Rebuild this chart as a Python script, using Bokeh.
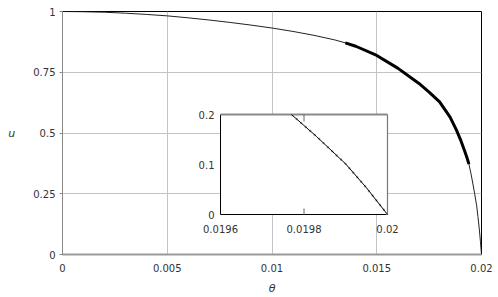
import math
from bokeh.plotting import figure
from bokeh.models import Range1d
from bokeh.core.properties import value
from bokeh.embed import file_html
from bokeh.resources import INLINE

# ---- data ----
theta = [0.0, 0.001, 0.002, 0.003, 0.004, 0.005, 0.006, 0.007, 0.008, 0.009,
         0.010, 0.011, 0.012, 0.013, 0.0135, 0.014, 0.015, 0.016, 0.017, 0.0175,
         0.018, 0.0185, 0.0188, 0.019, 0.0192, 0.0193, 0.0194, 0.0195, 0.0196,
         0.01967, 0.01977, 0.01983, 0.0199, 0.01995, 0.02]
u = [1.000, 0.999, 0.997, 0.993, 0.988, 0.982, 0.974, 0.965, 0.955, 0.944,
     0.932, 0.918, 0.902, 0.883, 0.871, 0.857, 0.819, 0.767, 0.705, 0.668,
     0.628, 0.565, 0.513, 0.472, 0.425, 0.400, 0.372, 0.332, 0.286,
     0.252, 0.200, 0.156, 0.101, 0.053, 0.0]

thick_from = 0.0135
thick_to = 0.0194

x_ticks = [0, 0.005, 0.01, 0.015, 0.02]
x_tick_labels = ["0", "0.005", "0.01", "0.015", "0.02"]
y_ticks = [0, 0.25, 0.5, 0.75, 1]
y_tick_labels = ["0", "0.25", "0.5", "0.75", "1"]

inset_x_ticks = [0.0196, 0.0198, 0.02]
inset_x_tick_labels = ["0.0196", "0.0198", "0.02"]
inset_y_ticks = [0, 0.1, 0.2]
inset_y_tick_labels = ["0", "0.1", "0.2"]

FONT = "DejaVu Sans"
TXT = "#333333"

# ---- main plot ----
W, H = 498, 297
BL, BR, BT, BB = 62, 17, 11, 43
p = figure(width=W, height=H, x_range=Range1d(0, 0.02), y_range=Range1d(0, 1),
           output_backend="svg", toolbar_location=None,
           min_border_left=BL, min_border_right=BR, min_border_top=BT, min_border_bottom=BB)
p.background_fill_color = "white"
p.border_fill_color = "white"
p.outline_line_color = "black"
p.outline_line_width = 1

p.xaxis.ticker = x_ticks
p.yaxis.ticker = y_ticks
p.xaxis.major_label_overrides = dict(zip(x_ticks, x_tick_labels))
p.yaxis.major_label_overrides = dict(zip(y_ticks, y_tick_labels))
p.xgrid.grid_line_color = "#c4c4c4"
p.ygrid.grid_line_color = "#c4c4c4"
for ax in (p.xaxis[0], p.yaxis[0]):
    ax.major_label_text_font = FONT
    ax.major_label_text_font_size = "10px"
    ax.major_label_text_color = TXT
    ax.axis_label_text_font = FONT
    ax.axis_label_text_font_size = "11px"
    ax.axis_label_text_color = TXT
    ax.minor_tick_line_color = None
    ax.major_tick_in = 0
p.xaxis.axis_line_color = "#999999"
p.xaxis.axis_line_width = 2
p.xaxis.major_tick_out = 0
p.xaxis.major_label_standoff = 9
p.xaxis.axis_label = "θ"
p.xaxis.axis_label_standoff = 7
p.yaxis.axis_line_color = "#888888"
p.yaxis.major_tick_out = 3
p.yaxis.major_tick_line_color = "#888888"
p.yaxis.major_label_standoff = 4
p.yaxis.axis_label = "u"
p.yaxis.axis_label_orientation = "horizontal"
p.yaxis.axis_label_text_font_style = "italic"
p.yaxis.axis_label_standoff = 15

i0 = theta.index(thick_from)
i1 = theta.index(thick_to)
p.line(theta, u, line_color="#222222", line_width=1, line_join="round")
p.line(theta[i0:i1 + 1], u[i0:i1 + 1], line_color="black", line_width=3,
       line_join="round")

# ---- inset (sub-coordinates inside the main frame) ----
ix0, ix1 = inset_x_ticks[0], inset_x_ticks[-1]
iy0, iy1 = inset_y_ticks[0], inset_y_ticks[-1]
# inset box in pixels of the page (left, right, top, bottom)
box_l, box_r, box_t, box_b = 220, 387, 114, 214
fw, fh = W - BL - BR, H - BT - BB
def px2x(px):
    return (px - BL) / fw * 0.02
def py2y(py):
    return (H - BB - py) / fh * 1.0

sub = p.subplot(x_source=Range1d(ix0, ix1), y_source=Range1d(iy0, iy1),
                x_target=Range1d(px2x(box_l), px2x(box_r)),
                y_target=Range1d(py2y(box_b), py2y(box_t)))

sub.quad(left=[ix0], right=[ix1], bottom=[iy0], top=[iy1],
         fill_color="white", line_color=None)
# frame borders
sub.segment(x0=[ix0, ix0], y0=[iy0, iy0], x1=[ix0, ix1], y1=[iy1, iy0],
            line_color="black", line_width=1)
sub.segment(x0=[ix0], y0=[iy1], x1=[ix1], y1=[iy1], line_color="#8a8a8a", line_width=2)
sub.segment(x0=[ix1], y0=[iy0], x1=[ix1], y1=[iy1], line_color="#777777", line_width=1.2)
# inner ticks at the middle x tick
sub.ray(x=[inset_x_ticks[1]], y=[iy0], length=6, length_units="screen",
        angle=math.pi / 2, line_color="#666666", line_width=1)
sub.ray(x=[inset_x_ticks[1]], y=[iy1], length=7, length_units="screen",
        angle=-math.pi / 2, line_color="#666666", line_width=1)
# tick labels
sub.text(x=inset_x_ticks, y=[iy0] * len(inset_x_ticks), text=inset_x_tick_labels,
         y_offset=10, text_align="center", text_baseline="top",
         text_font=value(FONT), text_font_size="10px", text_color=TXT)
sub.text(x=[ix0] * len(inset_y_ticks), y=inset_y_ticks, text=inset_y_tick_labels,
         x_offset=-6, text_align="right", text_baseline="middle",
         text_font=value(FONT), text_font_size="10px", text_color=TXT)
# curve inside the inset (part of the data within its ranges)
k0 = next(i for i, t in enumerate(theta) if t >= ix0 and u[i] <= iy1)
sub.line(theta[k0:], u[k0:], line_color="#a0a0a0", line_width=1, line_dash="2 3",
         x_offset=2) if False else None
sub.line(theta[k0:], u[k0:], line_color="#a0a0a0", line_width=2.2, line_dash="2 4")
sub.line(theta[k0:], u[k0:], line_color="black", line_width=1, line_join="round")

open("out.html", "w").write(file_html(p, INLINE))
